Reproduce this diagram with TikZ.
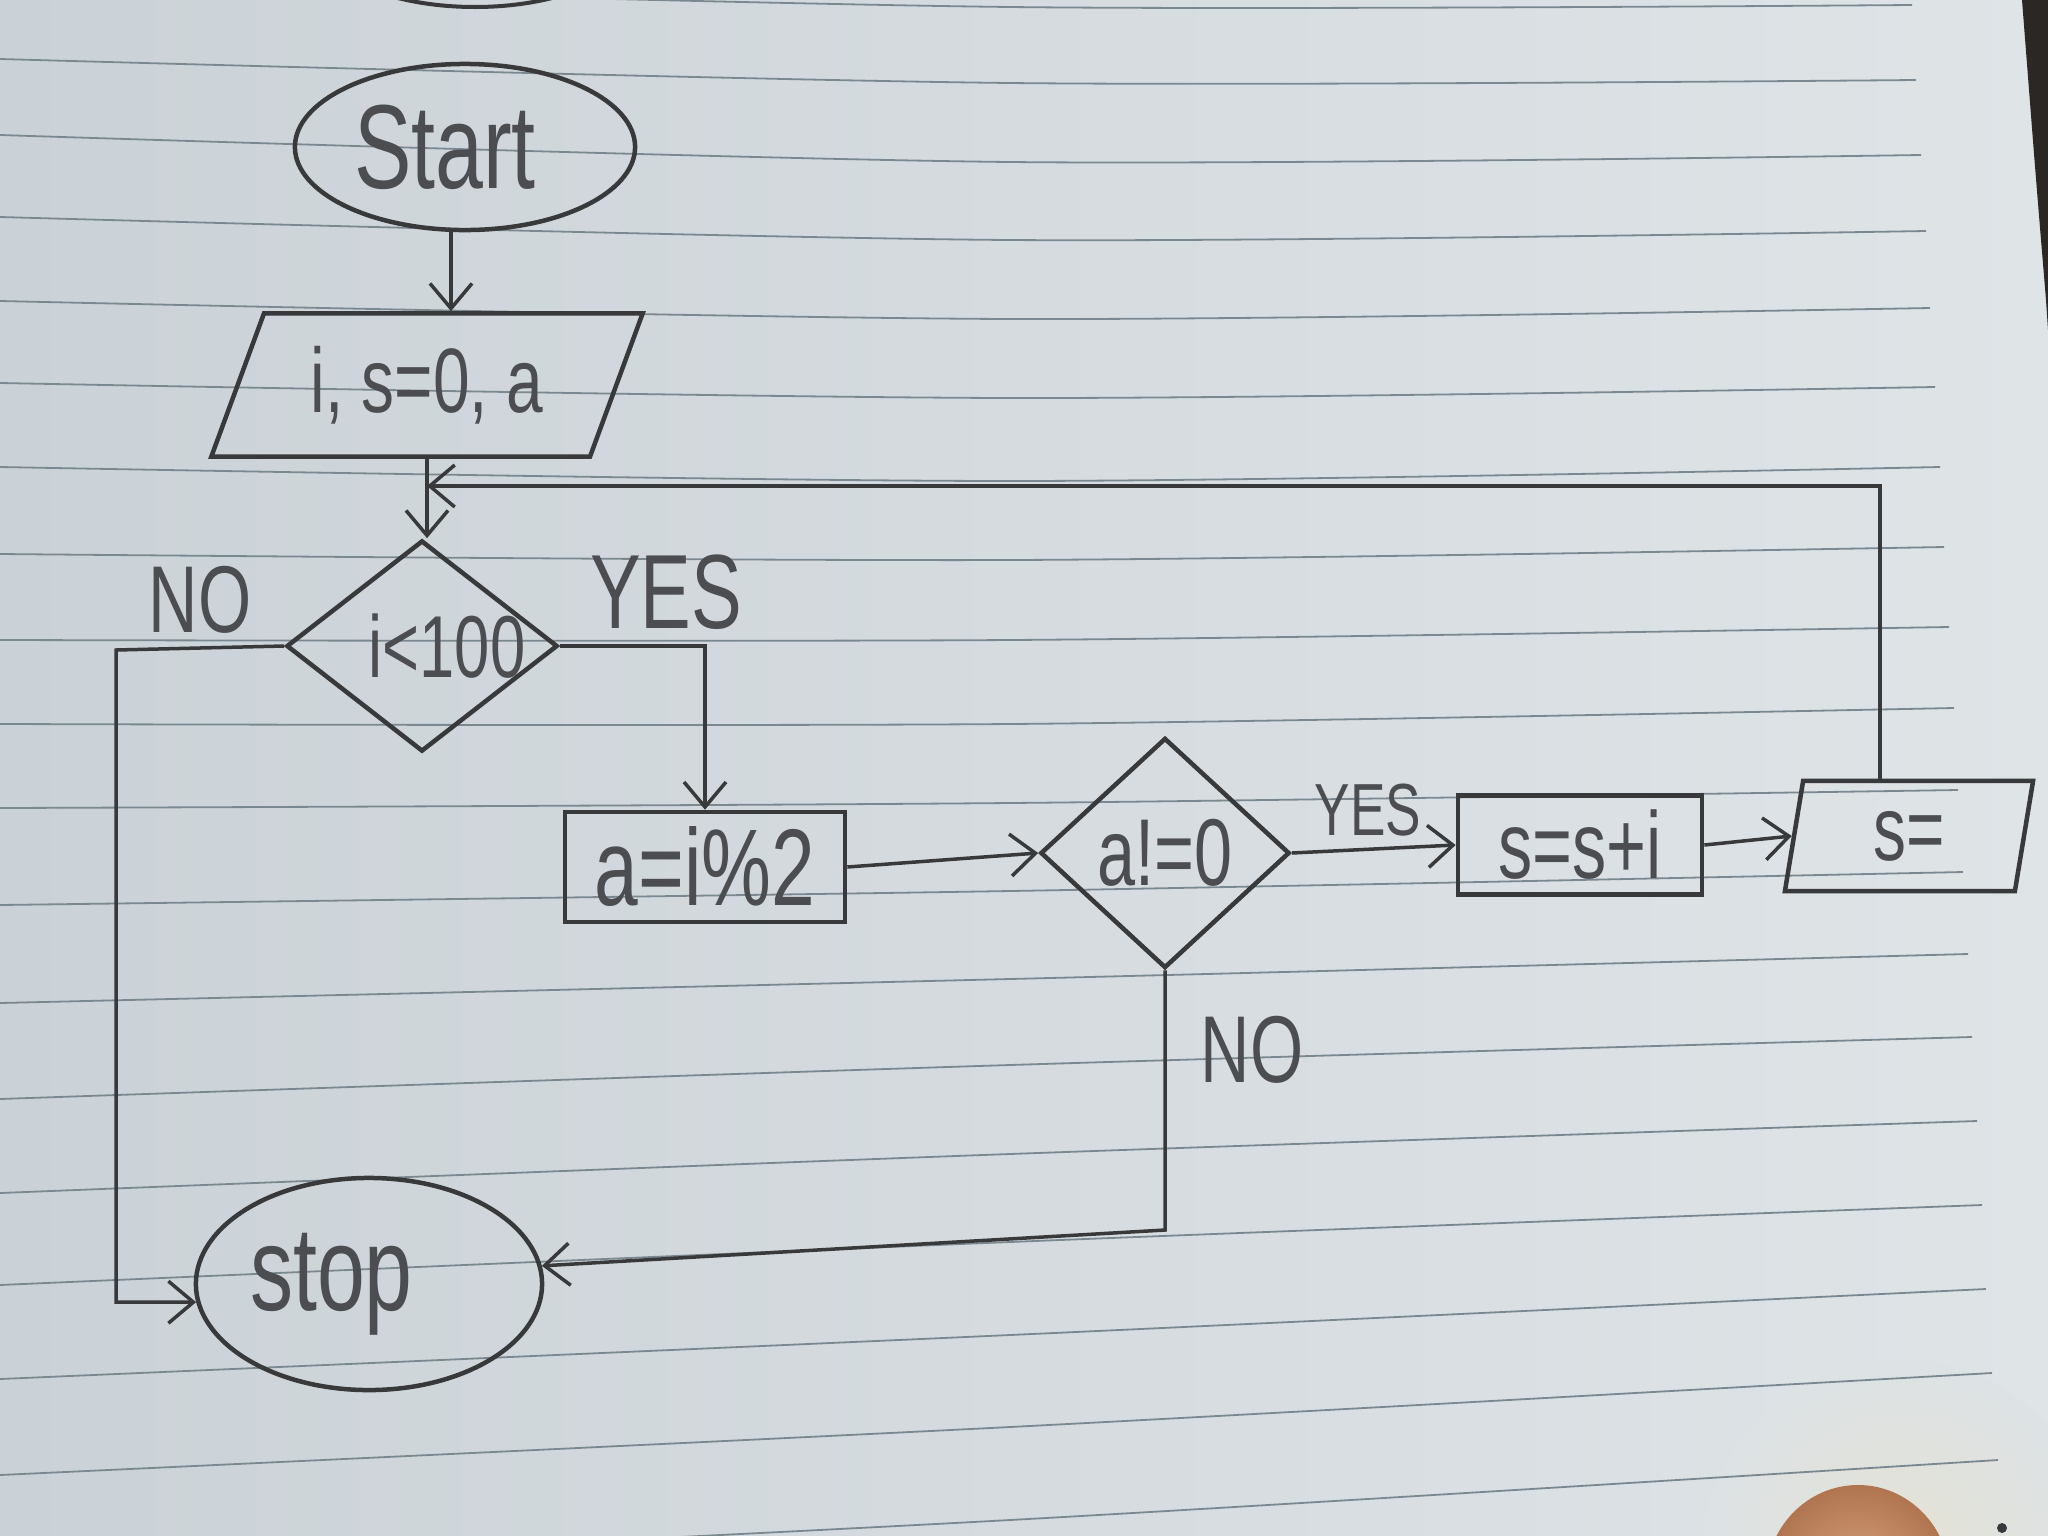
\documentclass[tikz,border=0pt]{standalone}
\usepackage{fontspec}
\setmainfont{Liberation Sans}
\newfontfamily\hand[FakeStretch=0.72]{Liberation Sans}
\usetikzlibrary{shapes.geometric, arrows.meta}
\definecolor{paperL}{HTML}{CBD2D7}
\definecolor{paperR}{HTML}{DFE4E7}
\definecolor{rulec}{HTML}{7C8890}
\definecolor{inkc}{HTML}{38393B}
\definecolor{textc}{HTML}{4C4D50}
\definecolor{fingc}{HTML}{CF8A5E}
\definecolor{glowc}{HTML}{E4E2D4}
\definecolor{edgec}{HTML}{2A2725}
\newcommand\hwf[1]{\hand\fontsize{#1}{#1}\selectfont}
\begin{document}
\begin{tikzpicture}[x=0.01cm, y=-0.01cm,
  ink/.style={draw=inkc, line width=0.045cm, text=textc},
  conn/.style={draw=inkc, line width=0.035cm, -{Straight Barb[length=0.25cm,width=0.42cm]}},
  lbl/.style={text=textc, inner sep=0pt},
  term/.style={ink, ellipse, inner sep=0pt},
  io/.style={ink, trapezium, trapezium stretches body, inner sep=0pt},
  dec/.style={ink, diamond, inner sep=0pt},
  proc/.style={ink, rectangle, inner sep=0pt},
  ruled/.style={draw=rulec, line width=0.018cm}]
\useasboundingbox (0,0) rectangle (2048,1536);
\begin{scope}
  \clip (0,0) rectangle (2048,1536);
  \shade[left color=paperL, right color=paperR] (0,0) rectangle (2048,1536);
  \shade[inner color=glowc, outer color=paperL!12!paperR] (1900,1560) circle [radius=200];
  \foreach \ya/\yb/\yc/\xe in {-17/7/5/1912, 59/83/80/1916, 135/162/155/1921,
      217/240/231/1926, 301/319/308/1930, 383/398/387/1935, 467/481/467/1940,
      554/560/547/1944, 640/640/627/1949, 724/724/708/1954, 808/803/790/1958,
      905/891/872/1963, 1003/979/954/1968, 1099/1065/1037/1972, 1193/1154/1121/1977,
      1285/1242/1205/1982, 1379/1335/1289/1986, 1475/1427/1373/1992, 1570/1520/1460/1998}
    {\draw[ruled] plot[smooth] coordinates {(0,\ya) (1010,\yb) (\xe,\yc)};}
  \draw[draw=inkc, line width=0.04cm] (475,-76) ellipse [x radius=170, y radius=83];
  \fill[edgec] (2022,0) -- (2048,0) -- (2048,330) -- (2046,300) .. controls (2036,180) .. (2022,0) -- cycle;
  \shade[inner color=fingc!80!white, outer color=fingc!85!black] (1858,1580) ellipse [x radius=92, y radius=95];
  \fill[inkc] (2002,1528) circle [radius=5];
\end{scope}

% nodes
\node[term, minimum width=3.40cm, minimum height=1.66cm, font=\hwf{34}] (start) at (465,147) {\hspace*{-0.4cm}Start};
\node[io, trapezium left angle=56, trapezium right angle=124, minimum width=4.31cm, minimum height=1.43cm, font=\hwf{26}] (in1) at (427,385) {i, s=0, a};
\node[dec, minimum width=2.71cm, minimum height=2.11cm, font=\hwf{25}] (d1) at (422,646) {i<100\hspace*{-0.5cm}};
\node[proc, minimum width=2.80cm, minimum height=1.10cm, font=\hwf{31}] (b1) at (705,867) {a=i\%2};
\node[dec, minimum width=2.49cm, minimum height=2.30cm, font=\hwf{27}] (d2) at (1165,853) {a!=0};
\node[proc, minimum width=2.44cm, minimum height=0.99cm, font=\hwf{27}] (b2) at (1580,845) {s=s+i};
\node[io, trapezium left angle=70, trapezium right angle=110, minimum width=2.48cm, minimum height=1.10cm, font=\hwf{26}] (out1) at (1909,836) {s=};
\node[term, minimum width=3.46cm, minimum height=2.12cm, font=\hwf{34}] (stop) at (369,1284) {\hspace*{-0.75cm}stop};

% labels
\node[lbl, font=\hwf{27}] (noA) at (200,600) {NO};
\node[lbl, font=\hwf{30}] (yesA) at (666,592) {YES};
\node[lbl, font=\hwf{21}] (yesB) at (1368,810) {YES};
\node[lbl, font=\hwf{27}] (noB) at (1252,1050) {NO};

% connectors
\coordinate (loopc) at (1880,486);
\coordinate (nl) at (116,650);
\coordinate (nb) at (1170,1230);
\coordinate (sa) at (451,228);
\draw[conn] (sa |- start.south) -- (sa |- in1.north);
\draw[conn] (in1.south) -- (in1.south |- d1.north);
\draw[conn] (loopc |- out1.north) -- (loopc) -- (loopc -| in1.south);
\draw[conn] (d1.west) -- (nl) -- (nl |- stop.186) -- (stop.186);
\draw[conn] (d1.east) -- (d1.east -| b1.north) -- (b1.north);
\draw[conn] (b1.east) -- (d2.west);
\draw[conn] (d2.east) -- (b2.west);
\draw[conn] (b2.east) -- (out1.west);
\draw[conn] (d2.south) -- (d2.south |- nb) -- (stop.6);
\end{tikzpicture}
\end{document}
